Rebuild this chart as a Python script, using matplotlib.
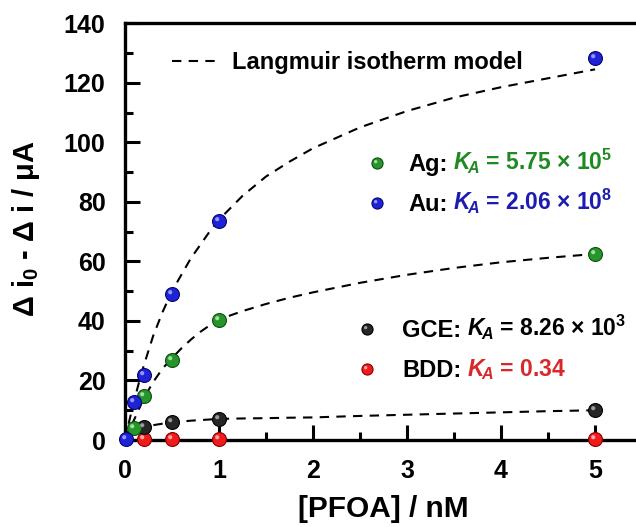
import matplotlib
matplotlib.use("Agg")
import matplotlib.pyplot as plt
from matplotlib.path import Path
from matplotlib.lines import Line2D
from matplotlib.legend_handler import HandlerTuple
from matplotlib.ticker import MultipleLocator

plt.rcParams['font.family'] = ['Liberation Sans', 'DejaVu Sans']
plt.rcParams['font.weight'] = 'bold'
plt.rcParams['mathtext.fontset'] = 'custom'
plt.rcParams['mathtext.rm'] = 'Liberation Sans:bold'
plt.rcParams['mathtext.it'] = 'Liberation Sans:italic:bold'
plt.rcParams['mathtext.bf'] = 'Liberation Sans:bold'
plt.rcParams['mathtext.sf'] = 'Liberation Sans'

# measured points
au_x = [0.01, 0.1, 0.2, 0.5, 1, 5]
au_y = [0.5, 12.8, 22, 49, 73.5, 128.3]
ag_x = [0.1, 0.2, 0.5, 1, 5]
ag_y = [4.2, 14.8, 26.8, 40.4, 62.6]
gce_x = [0.2, 0.5, 1, 5]
gce_y = [4.3, 6.0, 7.2, 10.2]
bdd_x = [0.2, 0.5, 1, 5]
bdd_y = [0.4, 0.4, 0.4, 0.4]

# dashed Langmuir curves
fit_x = [0, 0.05, 0.1, 0.15, 0.2, 0.3, 0.4, 0.5, 0.6, 0.7, 0.8, 0.9, 1,
         1.25, 1.5, 1.75, 2, 2.5, 3, 3.5, 4, 4.5, 5]
au_fit = [0, 7, 13.5, 19.5, 25, 35, 43, 50, 55.5, 61, 65.5, 70, 74,
          82, 88.5, 93.5, 98, 105, 110.5, 115, 118.5, 121.5, 124.5]
ag_fit = [0, 3.5, 7, 10.5, 14, 19.5, 24, 27.5, 30.8, 33.7, 36.3, 38.5, 40.5,
          43.3, 45.7, 47.8, 49.6, 52.8, 55.5, 57.8, 59.7, 61.2, 62.5]
gce_fit = [0, 2, 3.2, 3.9, 4.4, 5.0, 5.5, 5.9, 6.2, 6.5, 6.7, 6.9, 7.1,
           7.25, 7.35, 7.5, 7.6, 8.1, 8.5, 8.9, 9.3, 9.7, 10]

ka_ag = r'$\mathit{K}_{\!\mathit{A}}$ = 5.75 × 10$^{5}$'
ka_au = r'$\mathit{K}_{\!\mathit{A}}$ = 2.06 × 10$^{8}$'
ka_gce = r'$\mathit{K}_{\!\mathit{A}}$ = 8.26 × 10$^{3}$'
ka_bdd = r'$\mathit{K}_{\!\mathit{A}}$ = 0.34'

# ball colours: face, edge, highlight
balls = {
    'Ag': ('#26962a', '#0c4f10', '#b6eab4'),
    'Au': ('#1f23d8', '#06066e', '#aab0ff'),
    'GCE': ('#262626', '#000000', '#b0b0b0'),
    'BDD': ('#f01c1c', '#8a0000', '#ffc0c0'),
}
txt_col = {'Ag': '#1f8a22', 'Au': '#1c1cb0', 'GCE': 'black', 'BDD': '#d8282b'}

# highlight marker: small circle up-left, padded with a lone moveto so it scales like the ball
circ = Path.circle(center=(-0.33, 0.33), radius=0.3)
hl_path = Path([(1, 1)] + list(circ.vertices), [Path.MOVETO] + list(circ.codes))

MS = 10
FS = 17


def ball(ax, x, y, key, z=4):
    fc, ec, hc = balls[key]
    ax.plot(x, y, 'o', ms=MS, mfc=fc, mec=ec, mew=0.8, ls='none', zorder=z, clip_on=False)
    ax.plot(x, y, marker=hl_path, ms=MS, mfc=hc, mec='none', ls='none', zorder=z + 0.1,
            alpha=0.85, clip_on=False)


def handle(key):
    fc, ec, hc = balls[key]
    a = Line2D([], [], marker='o', ms=8, mfc=fc, mec=ec, mew=0.8, ls='none')
    b = Line2D([], [], marker=hl_path, ms=8, mfc=hc, mec='none', ls='none', alpha=0.85)
    return (a, b)


fig = plt.figure(figsize=(6.36, 5.27), dpi=100)
ax = fig.add_axes([0.1965, 0.165, 0.813, 0.791])

dash = dict(color='black', lw=1.5, dashes=(4.5, 3.5), zorder=3)
ax.plot(fit_x, au_fit, **dash)
ax.plot(fit_x, ag_fit, **dash)
ax.plot(fit_x, gce_fit, **dash)

ball(ax, bdd_x, bdd_y, 'BDD')
ball(ax, gce_x, gce_y, 'GCE')
ball(ax, ag_x, ag_y, 'Ag')
ball(ax, au_x, au_y, 'Au')

ax.set_xlim(0, 5.5)
ax.set_ylim(0, 140)
ax.xaxis.set_major_locator(MultipleLocator(1))
ax.xaxis.set_minor_locator(MultipleLocator(0.5))
ax.yaxis.set_major_locator(MultipleLocator(20))
ax.yaxis.set_minor_locator(MultipleLocator(10))
for s in ax.spines.values():
    s.set_linewidth(2.4)
ax.tick_params(which='major', direction='in', length=11, width=2.2, labelsize=18, pad=14)
ax.tick_params(which='minor', direction='in', length=6, width=2.2)
ax.tick_params(axis='x', which='major', pad=14)
for lab in ax.get_xticklabels() + ax.get_yticklabels():
    lab.set_fontweight('bold')

ax.set_xlabel('[PFOA] / nM', fontsize=21.5, fontweight='bold', labelpad=8)
ax.set_ylabel(r'$\mathsf{\Delta}$ i$_{0}$ - $\mathsf{\Delta}$ i / $\mathsf{\mu}$A', fontsize=21,
              fontweight='bold')
ax.yaxis.set_label_coords(-0.16, 0.508)

# legend for the model curve
lg0 = ax.legend([Line2D([], [], **dash)], ['Langmuir isotherm model'], loc='center left',
                bbox_to_anchor=(0.091, 0.906), frameon=False, fontsize=FS, handlelength=2.1,
                handletextpad=0.45, borderpad=0, borderaxespad=0)
ax.add_artist(lg0)

hmap = {tuple: HandlerTuple(ndivide=1)}
lg1 = ax.legend([handle('Ag'), handle('Au')], ['Ag:', 'Au:'], loc='center left',
                bbox_to_anchor=(0.472, 0.612), frameon=False, fontsize=FS, handlelength=0.7,
                handletextpad=0.95, labelspacing=0.72, borderpad=0, borderaxespad=0,
                handler_map=hmap)
ax.add_artist(lg1)
lg2 = ax.legend([handle('GCE'), handle('BDD')], ['GCE:', 'BDD:'], loc='center left',
                bbox_to_anchor=(0.453, 0.215), frameon=False, fontsize=FS, handlelength=0.7,
                handletextpad=1.12, labelspacing=0.72, borderpad=0, borderaxespad=0,
                handler_map=hmap)

for t, key, s in zip(lg1.get_texts() + lg2.get_texts(), ['Ag', 'Au', 'GCE', 'BDD'],
                     [ka_ag, ka_au, ka_gce, ka_bdd]):
    ax.annotate(s, xy=(1, 0), xycoords=t, xytext=(4, 0), textcoords='offset points',
                ha='left', va='bottom', fontsize=16.5, fontweight='bold', color=txt_col[key],
                zorder=10)

fig.savefig('out.png', dpi=100)
